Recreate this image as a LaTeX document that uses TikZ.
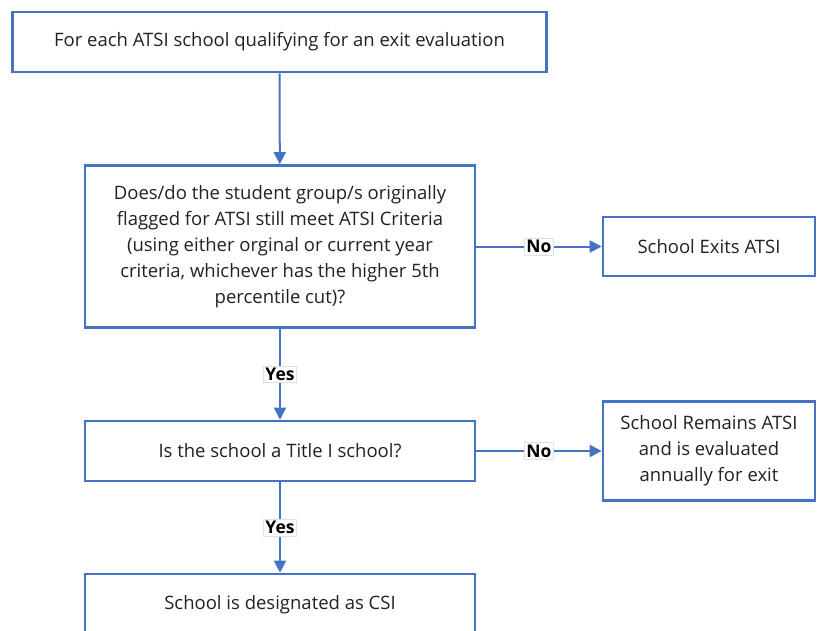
\documentclass[tikz,border=0pt]{standalone}
\usepackage{fontspec}
\setmainfont{Open Sans}
\usetikzlibrary{arrows.meta}
\definecolor{bordblue}{HTML}{4472C4}
\definecolor{txt}{HTML}{222222}
\tikzset{
  x=1pt, y=1pt,
  boxnode/.style={draw=bordblue, line width=2.6pt, fill=white, rectangle, align=center,
    inner sep=0pt, text=txt, font=\fontsize{18.5}{26}\selectfont},
  conn/.style={draw=bordblue, line width=2pt, -{Triangle[length=12pt,width=12pt]}},
  lbl/.style={fill=white, draw=black!12, line width=0.4pt, inner sep=2pt, text=black,
    font=\fontsize{17.5}{20}\selectfont\bfseries}
}
\begin{document}
\begin{tikzpicture}
\useasboundingbox (0,0) rectangle (817,-630);
\clip (0,0) rectangle (817,-630);
\node[boxnode, minimum width=534pt, minimum height=60pt] (b1) at (279.5,-42) {For each ATSI school qualifying for an exit evaluation};
\node[boxnode, minimum width=390pt, minimum height=162pt] (b2) at (280,-246.5) {Does/do the student group/s originally\\flagged for ATSI still meet ATSI Criteria\\(using either orginal or current year\\criteria, whichever has the higher 5th\\percentile cut)?};
\node[boxnode, minimum width=212pt, minimum height=59pt] (b3) at (709,-246.5) {School Exits ATSI};
\node[boxnode, minimum width=390pt, minimum height=60pt] (b4) at (280,-451) {Is the school a Title I school?};
\node[boxnode, minimum width=212pt, minimum height=99pt] (b5) at (709,-451) {School Remains ATSI\\and is evaluated\\annually for exit};
\node[boxnode, minimum width=390pt, minimum height=62pt] (b6) at (280,-605) {School is designated as CSI};
\draw[conn] (b1) -- (b2);
\draw[conn] (b2) -- node[lbl] {No} (b3);
\draw[conn] (b2) -- node[lbl] {Yes} (b4);
\draw[conn] (b4) -- node[lbl] {No} (b5);
\draw[conn] (b4) -- node[lbl] {Yes} (b6);
\end{tikzpicture}
\end{document}
